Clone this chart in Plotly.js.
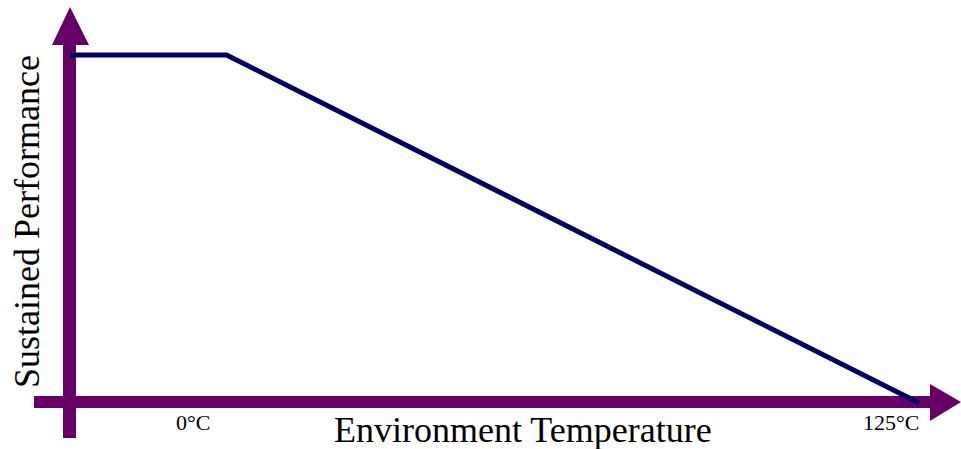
<!DOCTYPE html>
<html>
<head>
<meta charset="utf-8">
<script src="https://cdn.plot.ly/plotly-3.0.1.min.js"></script>
<style>html,body{margin:0;padding:0;background:#fff;}#chart{width:961px;height:449px;}</style>
</head>
<body>
<div id="chart"></div>
<script>
// Data
var temperature = [-22, 6, 130];          // °C (schematic)
var performance = [100, 100, 0];          // relative sustained performance
var tickValues = [0, 125];
var tickLabels = ["0\u00B0C", "125\u00B0C"];
var xTitle = "Environment Temperature";
var yTitle = "Sustained Performance";

var W = 961, H = 449;
function px(x){ return x / W; }
function py(y){ return 1 - y / H; }
function path(pts){
  return "M" + pts.map(function(p){ return px(p[0]) + "," + py(p[1]); }).join(" L") + " Z";
}
var purple = "#660066";
var navy = "#000066";

var shapes = [
  // vertical axis shaft + arrowhead
  {type:"rect", xref:"paper", yref:"paper", x0:px(63), x1:px(76), y0:py(438), y1:py(42),
   fillcolor:purple, line:{width:0}, layer:"below"},
  {type:"path", xref:"paper", yref:"paper", path:path([[70,7],[52,45],[89,45]]),
   fillcolor:purple, line:{width:0}, layer:"below"},
  // horizontal axis shaft + arrowhead
  {type:"rect", xref:"paper", yref:"paper", x0:px(34), x1:px(932), y0:py(408), y1:py(396),
   fillcolor:purple, line:{width:0}, layer:"below"},
  {type:"path", xref:"paper", yref:"paper", path:path([[930,384],[961,402],[930,421]]),
   fillcolor:purple, line:{width:0}, layer:"below"}
];

var serif = "Liberation Serif, Times New Roman, serif";
var annotations = tickValues.map(function(v, i){
  return {x:v, xref:"x", y:py(422), yref:"paper", text:tickLabels[i], showarrow:false,
          xanchor:"center", yanchor:"middle", font:{family:serif, size:22, color:"#000"}};
});
annotations.push({x:px(523), xref:"paper", y:py(430), yref:"paper", text:xTitle, showarrow:false,
  xanchor:"center", yanchor:"middle", font:{family:serif, size:36, color:"#000"}});
annotations.push({x:px(27), xref:"paper", y:py(222), yref:"paper", text:yTitle, showarrow:false,
  textangle:-90, xanchor:"center", yanchor:"middle", font:{family:serif, size:36, color:"#000"}});

var trace = {x:temperature, y:performance, type:"scatter", mode:"lines",
  line:{color:navy, width:5}, hoverinfo:"skip"};

var layout = {
  width:W, height:H,
  margin:{l:0, r:0, t:0, b:0},
  paper_bgcolor:"#fff", plot_bgcolor:"#fff",
  showlegend:false,
  xaxis:{range:[-34.56, 137.5], visible:false, fixedrange:true},
  yaxis:{range:[-13.22, 115.8], visible:false, fixedrange:true},
  shapes:shapes,
  annotations:annotations
};
Plotly.newPlot("chart", [trace], layout, {staticPlot:true, displayModeBar:false});
</script>
</body>
</html>
